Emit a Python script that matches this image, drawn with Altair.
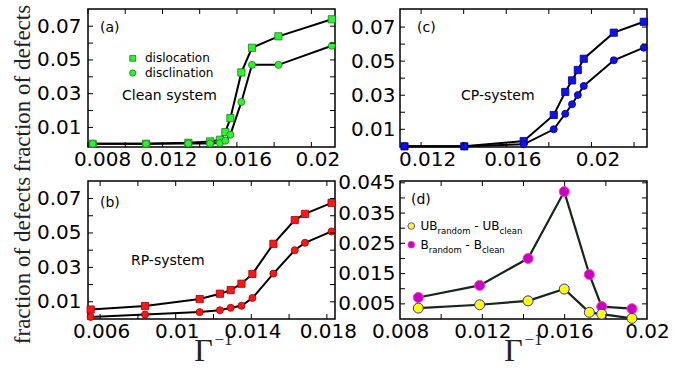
import altair as alt
import pandas as pd

# ---------------- data ----------------
# (a) clean system
a_x = [0.00825, 0.01112, 0.01339, 0.01456, 0.01509, 0.01538, 0.01565, 0.01624, 0.01681, 0.01823, 0.02110]
a_disloc = [0.0003, 0.0003, 0.0009, 0.0017, 0.0027, 0.0072, 0.0155, 0.0426, 0.0572, 0.0640, 0.0741]
a_discl = [0.0003, 0.0003, 0.0005, 0.0005, 0.0007, 0.0021, 0.0057, 0.0251, 0.0471, 0.0471, 0.0584]
# (c) CP-system
c_x = [0.01122, 0.01403, 0.01682, 0.01823, 0.01877, 0.01909, 0.01936, 0.01964, 0.02105, 0.02246]
c_disloc = [0.0, 0.0, 0.0031, 0.0184, 0.0319, 0.0387, 0.0448, 0.0514, 0.0667, 0.0731]
c_discl = [0.0, 0.0, 0.0012, 0.0100, 0.0191, 0.0247, 0.0301, 0.0354, 0.0505, 0.0579]
# (b) RP-system
b_x = [0.0055, 0.00838, 0.01127, 0.01234, 0.01291, 0.01348, 0.01406, 0.01517, 0.0163, 0.01684, 0.01825]
b_disloc = [0.0055, 0.0075, 0.0116, 0.0147, 0.0168, 0.0205, 0.0262, 0.0437, 0.0575, 0.0611, 0.0675]
b_discl = [0.0012, 0.0026, 0.0040, 0.0051, 0.0065, 0.0077, 0.0122, 0.0264, 0.0400, 0.0443, 0.0509]
# (d) differences
d_x = [0.00889, 0.01187, 0.01422, 0.01598, 0.0172, 0.0178, 0.01927]
d_b = [0.0071, 0.0111, 0.0200, 0.0421, 0.0147, 0.0041, 0.0034]
d_ub = [0.0036, 0.0047, 0.0060, 0.0099, 0.0022, 0.0016, 0.0002]

# tick labels / tick marks
a_xlabels = [0.008, 0.012, 0.016, 0.02]
a_xticks = [0.008, 0.010, 0.012, 0.014, 0.016, 0.018, 0.020]
c_xlabels = [0.012, 0.016, 0.02]
c_xticks = [0.012, 0.014, 0.016, 0.018, 0.020, 0.022]
b_xlabels = [0.006, 0.01, 0.014, 0.018]
b_xticks = [0.006, 0.008, 0.010, 0.012, 0.014, 0.016, 0.018]
d_xlabels = [0.008, 0.012, 0.016, 0.02]
d_xticks = [0.010, 0.012, 0.014, 0.016, 0.018]
frac_ylabels = [0.01, 0.03, 0.05, 0.07]
frac_yticks = [0.01, 0.02, 0.03, 0.04, 0.05, 0.06, 0.07]
d_ylabels = [0.005, 0.015, 0.025, 0.035, 0.045]
d_yticks = [0.005, 0.01, 0.015, 0.02, 0.025, 0.03, 0.035, 0.04, 0.045]

# annotation texts
legend_a = ["dislocation", "disclination"]
y_title = "fraction of defects"

# ---------------- style ----------------
W, H = 247, 138
TK = 5
SANS = "DejaVu Sans"
SERIF = "Liberation Serif"
FMT = ".3~g"


def one(**kw):
    return pd.DataFrame({k: [v] for k, v in kw.items()})


def panel(xdom, ydom, xlabels, xticks, ylabels, yticks, series, xlab_offset, left_title, annotations):
    xs = alt.Scale(domain=xdom, nice=False, zero=False)
    ys = alt.Scale(domain=ydom, nice=False, zero=False)
    xaxis = alt.Axis(values=xlabels, format=FMT, title=None, tickSize=0, domain=False, grid=False,
                     labelFont=SANS, labelFontSize=20, labelColor="black", labelPadding=2,
                     labelOffset=xlab_offset, labelFlush=False, labelOverlap=False)
    if left_title:
        yaxis = alt.Axis(values=ylabels, format=FMT, title=y_title, tickSize=0, domain=False, grid=False,
                         labelFont=SANS, labelFontSize=20, labelColor="black", labelPadding=7,
                         labelFlush=False, labelOverlap=False,
                         titleFont=SERIF, titleFontSize=23, titleFontWeight="normal", titleColor="#222222",
                         minExtent=50, maxExtent=50, titlePadding=4, titleY=H / 2 + 10)
    else:
        yaxis = alt.Axis(values=ylabels, format=FMT, title=None, tickSize=0, domain=False, grid=False,
                         labelFont=SANS, labelFontSize=20, labelColor="black", labelPadding=5,
                         labelFlush=False, labelOverlap=False)

    def X(f):
        return alt.X(f, scale=xs, axis=xaxis)

    def Y(f):
        return alt.Y(f, scale=ys, axis=yaxis)

    layers = []
    for s in series:
        df = pd.DataFrame({"x": s["x"], "y": s["y"]})
        layers.append(alt.Chart(df).mark_line(color=s["line"], strokeWidth=s["lw"]).encode(
            x=X("x:Q"), y=Y("y:Q")))
    for s in series:
        df = pd.DataFrame({"x": s["x"], "y": s["y"]})
        layers.append(alt.Chart(df).mark_point(shape=s["shape"], filled=True, fill=s["fill"], stroke=s["stroke"],
                                                strokeWidth=s["sw"], size=s["size"], opacity=1).encode(
            x=X("x:Q"), y=Y("y:Q")))
    # inward ticks on all four sides
    tx = pd.DataFrame({"t": xticks})
    ty = pd.DataFrame({"t": yticks})
    for y0, y1 in [(H, H - TK), (0, TK)]:
        layers.append(alt.Chart(tx).mark_rule(color="black", strokeWidth=1).encode(
            x=X("t:Q"), y=alt.value(y0), y2=alt.value(y1)))
    for x0, x1 in [(0, TK), (W, W - TK)]:
        layers.append(alt.Chart(ty).mark_rule(color="black", strokeWidth=1).encode(
            y=Y("t:Q"), x=alt.value(x0), x2=alt.value(x1)))
    layers.extend(annotations)
    return alt.layer(*layers).properties(width=W, height=H)


def txt(text, x, y, size, font=SANS, align="left", baseline="middle", color="black"):
    return alt.Chart(one(label=text)).mark_text(align=align, baseline=baseline, font=font, fontSize=size,
                                                 color=color).encode(x=alt.value(x), y=alt.value(y),
                                                                     text="label:N")


def marker(shape, x, y, size, fill, stroke, sw=0.8):
    return alt.Chart(one(k=0)).mark_point(shape=shape, filled=True, fill=fill, stroke=stroke, strokeWidth=sw,
                                          size=size, opacity=1).encode(x=alt.value(x), y=alt.value(y))


GREEN, GREEN_E = "#2ef22e", "#1a7d1a"
BLUE, BLUE_E = "#1010f5", "#000080"
RED, RED_E = "#ff1515", "#a00000"
YEL, YEL_E = "#ffff00", "#2a2ad8"
MAG, MAG_E = "#c800c8", "#ff3fa8"


def pair(x, y1, y2, fill, edge):
    return [
        dict(x=x, y=y1, shape="square", fill=fill, stroke=edge, sw=0.8, size=52, line="black", lw=2),
        dict(x=x, y=y2, shape="circle", fill=fill, stroke=edge, sw=0.8, size=50, line="black", lw=2),
    ]


# (a)
ann_a = [
    txt("(a)", 12, 19, 14),
    marker("square", 44.7, 49.3, 34, GREEN, GREEN_E),
    marker("circle", 44.7, 64, 40, GREEN, GREEN_E),
    txt(legend_a[0], 57, 49.3, 12),
    txt(legend_a[1], 57, 64, 12),
    txt("Clean system", 34, 87, 14),
]
pa = panel([0.008, 0.02127], [-0.0016, 0.0802], a_xlabels, a_xticks, frac_ylabels, frac_yticks,
           pair(a_x, a_disloc, a_discl, GREEN, GREEN_E),
           alt.condition("datum.value < 0.009", alt.value(14), alt.value(6)), True, ann_a)

# (c)
ann_c = [txt("(c)", 17, 19, 14), txt("CP-system", 61, 87, 14)]
pc = panel([0.01101, 0.02261], [-0.0004, 0.0806], c_xlabels, c_xticks, frac_ylabels, frac_yticks,
           pair(c_x, c_disloc, c_discl, BLUE, BLUE_E), 6, False, ann_c)

# (b)
ann_b = [txt("(b)", 12, 21.7, 14), txt("RP-system", 43, 80, 14),
         txt("Γ", W / 2 - 8, H + 42, 32, font=SERIF, align="center", baseline="alphabetic", color="#222222"),
         txt("−1", W / 2 + 3, H + 26, 17, font=SERIF, baseline="alphabetic", color="#222222")]
pb = panel([0.00536, 0.01843], [0.0, 0.0802], b_xlabels, b_xticks, frac_ylabels, frac_yticks,
           pair(b_x, b_disloc, b_discl, RED, RED_E), 1, True, ann_b)

# (d) legend with subscripts
MAIN, SUB = 12, 8.5
wid = {"U": 0.732, "B": 0.686, " ": 0.318, "-": 0.361, "r": 0.411, "a": 0.613, "n": 0.634, "d": 0.635,
       "o": 0.612, "m": 0.974, "c": 0.550, "l": 0.278, "e": 0.615}


def sub_label(parts, x0, base):
    out = []
    x = x0
    for t, is_sub in parts:
        size = SUB if is_sub else MAIN
        lead = len(t) - len(t.lstrip(" "))
        x += lead * wid[" "] * size
        core = t.strip(" ")
        out.append(txt(core, x, base + (4 if is_sub else 0), size, baseline="alphabetic"))
        x += sum(wid[ch] for ch in core) * size
        x += (len(t) - len(t.rstrip(" "))) * wid[" "] * size
    return out


ann_d = [txt("(d)", 11, 19.3, 14),
         marker("circle", 11.3, 45, 45, YEL, YEL_E),
         marker("circle", 11.3, 63.7, 45, MAG, MAG_E)]
ann_d += sub_label([("UB", False), ("random", True), (" - ", False), ("UB", False), ("clean", True)], 20.5, 49)
ann_d += sub_label([("B", False), ("random", True), (" - ", False), ("B", False), ("clean", True)], 20.5, 68.3)
ann_d += [txt("Γ", W / 2 - 10, H + 42, 32, font=SERIF, align="center", baseline="alphabetic", color="#222222"),
          txt("−1", W / 2 + 1, H + 26, 17, font=SERIF, baseline="alphabetic", color="#222222")]
series_d = [
    dict(x=d_x, y=d_b, shape="circle", fill=MAG, stroke=MAG_E, sw=1, size=100, line="#16261a", lw=2.2),
    dict(x=d_x, y=d_ub, shape="circle", fill=YEL, stroke=YEL_E, sw=1, size=100, line="#16261a", lw=2.2),
]
pd_ = panel([0.008, 0.02], [0.0, 0.0456], d_xlabels, d_xticks, d_ylabels, d_yticks, series_d, 0, False, ann_d)

chart = alt.concat(pa, pc, pb, pd_, columns=2, spacing={"row": 34, "column": 65}, bounds="flush").properties(
    padding={"left": 10, "top": 3, "right": 0, "bottom": 0}
).configure_view(stroke="black", strokeWidth=1.5)

chart.save("out.html", embed_options={"renderer": "svg", "actions": False})
